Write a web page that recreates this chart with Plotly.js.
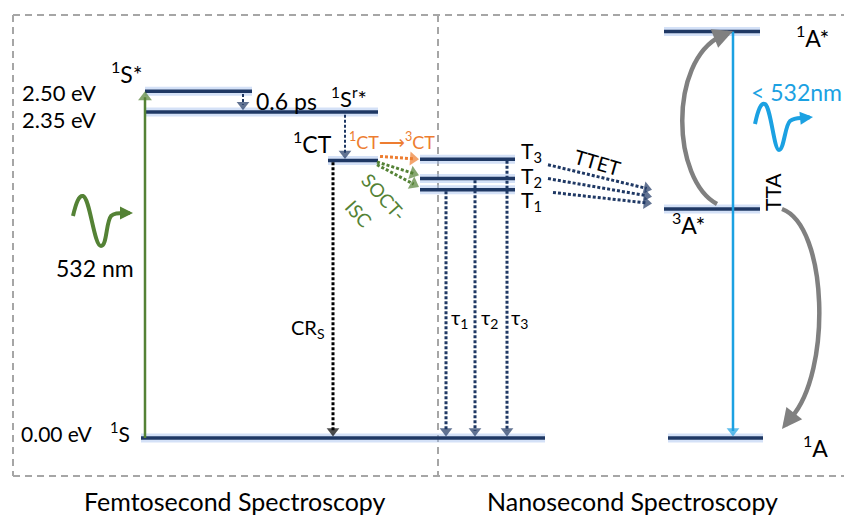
<!DOCTYPE html>
<html><head><meta charset="utf-8">
<script src="https://cdn.plot.ly/plotly-3.0.1.min.js"></script>
<style>html,body{margin:0;padding:0;background:#fff}#chart{width:844px;height:515px}</style>
</head><body><div id="chart"></div>
<script>
// ---------------- data ----------------
// energy levels (eV) and the horizontal span (diagram column units) each level occupies
const levelNames  = ['1S*', '1Sr*', '1CT', 'T3', 'T2', 'T1', '1S', '1A*', '3A*', '1A'];
const levelEnergy = [2.50, 2.35, 2.00, 2.01, 1.87, 1.79, 0.00, 2.93, 1.65, 0.00];
const levelFrom   = [145, 145, 328, 420, 420, 420, 141, 664, 664, 668];
const levelTo     = [252, 378, 378, 515, 515, 515, 545, 760, 760, 763];

// vertical transitions between levels
const vertFrom = ['1S', '1S*', '1Sr*', '1CT', 'T1', 'T2', 'T3', '1A*'];
const vertTo   = ['1S*', '1Sr*', '1CT', '1S', '1S', '1S', '1S', '1A'];
const vertCol  = [145, 243, 345, 333, 446, 475, 507, 733];
const vertKind = ['excite', 'relax', 'relax', 'crs', 'tau', 'tau', 'tau', 'emit'];

// slanted transfers (start/end column and energy)
const transKind = ['isc3ct', 'socisc', 'socisc', 'ttet', 'ttet', 'ttet'];
const transX0 = [380, 377, 377, 548, 548, 553];
const transE0 = [2.03, 1.99, 1.97, 1.97, 1.87, 1.77];
const transX1 = [419, 419, 419, 652, 652, 652];
const transE1 = [2.01, 1.895, 1.81, 1.79, 1.74, 1.69];

// ---------------- styles ----------------
const NAVY = '#1f3864', GREEN = '#548235', ORANGE = '#ed7d31', CYAN = '#1ba1e2', GRAY = '#808080';
const kindStyle = {
  excite: {color: GREEN, width: 2.5, dash: 'solid', head: 12},
  relax:  {color: NAVY, width: 2, dash: '3px,2px', head: 11},
  crs:    {color: '#000000', width: 3, dash: '3px,2px', head: 11},
  tau:    {color: NAVY, width: 3, dash: '3px,2px', head: 11},
  emit:   {color: CYAN, width: 2.5, dash: 'solid', head: 11},
  isc3ct: {color: ORANGE, width: 3, dash: '3px,2px', head: 12},
  socisc: {color: GREEN, width: 3, dash: '3px,2px', head: 12},
  ttet:   {color: NAVY, width: 3, dash: '3px,2px', head: 11}
};

// pixel-row helper for decorations and labels only
const PXE = 138.72, Y0 = 438;
const E = py => (Y0 - py) / PXE;

const idx = Object.fromEntries(levelNames.map((n, i) => [n, i]));
const traces = [];

// levels: glow + line
const lx = [], ly = [];
levelNames.forEach((n, i) => { lx.push(levelFrom[i], levelTo[i], null); ly.push(levelEnergy[i], levelEnergy[i], null); });
traces.push({x: lx, y: ly, mode: 'lines', line: {color: 'rgba(160,188,238,0.45)', width: 9}, hoverinfo: 'skip'});
traces.push({x: lx, y: ly, mode: 'lines', line: {color: NAVY, width: 3.5}, hoverinfo: 'skip'});

// arrow: line to the tip, triangle head centred just behind the tip
function arrowTrace(x0, e0, x1, e1, st) {
  const dx = x1 - x0, dy = (e1 - e0) * PXE, len = Math.hypot(dx, dy);
  const r = st.head / 2;
  const cx = x1 - r * dx / len, ce = e1 - (r * dy / len) / PXE;
  return {x: [x0, cx], y: [e0, ce], mode: 'lines+markers', hoverinfo: 'skip',
    line: {color: st.color, width: st.width, dash: st.dash},
    marker: {symbol: 'triangle-up', size: [0, st.head], color: st.color, angleref: 'previous', line: {width: 0}}};
}

vertFrom.forEach((f, i) => {
  const k = vertKind[i], st = kindStyle[k];
  const eF = levelEnergy[idx[f]], eT = levelEnergy[idx[vertTo[i]]];
  let s = eF, t = eT;
  if (k === 'relax') { s = eF - 0.02; t = eT + 0.012; }
  else if (k === 'crs' || k === 'tau') { s = eF - 0.012; t = eT + 0.01; }
  else if (k === 'emit') { t = eT + 0.01; }
  traces.push(arrowTrace(vertCol[i], s, vertCol[i], t, st));
});

transKind.forEach((k, i) => traces.push(arrowTrace(transX0[i], transE0[i], transX1[i], transE1[i], kindStyle[k])));

// ---------------- decorations ----------------
const f4 = v => v.toFixed(4);
const P = pts => pts.map(p => typeof p === 'string' ? p : `${p[0]},${f4(E(p[1]))}`).join(' ');

const shapes = [];
const boxLine = {color: '#a6a6a6', width: 2, dash: '7px,5px'};
[[13, 15, 844, 15], [13, 15, 13, 476], [13, 476, 844, 476], [438, 15, 438, 476]].forEach(s =>
  shapes.push({type: 'line', xref: 'x', yref: 'y', x0: s[0], y0: E(s[1]), x1: s[2], y1: E(s[3]), line: boxLine, layer: 'below'}));

function pathShape(d, color, width) {
  return {type: 'path', xref: 'x', yref: 'y', path: d, line: {color: color, width: width}, fillcolor: 'rgba(0,0,0,0)'};
}
// TTA arcs
shapes.push(pathShape('M ' + P([[717, 204], 'C', [672, 180], [668, 62], [721, 36]]), GRAY, 4.5));
shapes.push(pathShape('M ' + P([[782, 209], 'C', [828, 226], [832, 372], [791, 418]]), GRAY, 4.5));
// photon waves
shapes.push(pathShape('M ' + P([[73, 216], 'C', [76, 203], [79, 195], [83, 196], 'C', [90, 198], [94, 246], [101, 246],
  'C', [107, 246], [106, 222], [111, 216], 'C', [114, 213], [118, 213], [124, 213]]), GREEN, 4));
shapes.push(pathShape('M ' + P([[755, 124], 'C', [758, 110], [761, 102], [765, 104], 'C', [771, 108], [774, 150], [779, 150],
  'C', [784, 150], [785, 125], [790, 121], 'C', [795, 117], [800, 118], [804, 118]]), CYAN, 4));

const FONT = 'Lato, "Open Sans", sans-serif';
const ann = [];
function head(x, py, ax, ay, color, w, sz) {
  ann.push({x: x, y: E(py), xref: 'x', yref: 'y', text: '', showarrow: true, ax: ax, ay: ay,
    arrowhead: 2, arrowsize: sz, arrowwidth: w, arrowcolor: color, standoff: 0});
}
head(733, 31, -10, 4, GRAY, 5, 0.8);
head(782, 429, 7, -9, GRAY, 5, 0.8);
head(133, 213, -10, 0, GREEN, 4, 0.65);
head(813, 117, -10, 1, CYAN, 4, 0.65);

function label(text, x, py, size, color, angle) {
  ann.push({x: x, y: E(py), xref: 'x', yref: 'y', text: text, showarrow: false,
    font: {family: FONT, size: size, color: color || '#000'}, textangle: angle || 0,
    xanchor: 'center', yanchor: 'middle'});
}
label('2.50 eV', 59, 92, 22);
label('2.35 eV', 59, 119, 22);
label('<sup>1</sup>S*', 127, 72, 23);
label('0.6 ps', 286, 101, 23);
label('<sup>1</sup>S<sup>r</sup>*', 349, 97, 22);
label('<sup>1</sup>CT', 312, 142, 23);
label('<sup>1</sup>CT⟶<sup>3</sup>CT', 392, 141, 18, ORANGE);
label('SOCT-', 384, 196, 19, GREEN, 48);
label('ISC', 359, 213, 19, GREEN, 48);
label('T<sub>3</sub>', 531, 152, 21);
label('T<sub>2</sub>', 531, 177, 21);
label('T<sub>1</sub>', 531, 201, 21);
label('TTET', 597, 162, 20, '#000', 16);
label('<sup>1</sup>A*', 812, 36, 23);
label('< 532nm', 796, 92, 23, CYAN);
label('<sup>3</sup>A*', 688, 223, 23);
label('TTA', 772, 192, 21, '#000', -90);
label('<sup>1</sup>A', 815, 446, 23);
label('532 nm', 95, 268, 23);
label('CR<sub>S</sub>', 308, 328, 20);
label('τ<sub>1</sub>', 459, 318, 20);
label('τ<sub>2</sub>', 489, 318, 20);
label('τ<sub>3</sub>', 519, 318, 20);
label('0.00 eV', 56, 433, 21);
label('<sup>1</sup>S', 120, 432, 21);
label('Femtosecond Spectroscopy', 235, 501, 25);
label('Nanosecond Spectroscopy', 632, 501, 25);

const layout = {
  width: 844, height: 515, margin: {l: 0, r: 0, t: 0, b: 0},
  paper_bgcolor: '#fff', plot_bgcolor: '#fff', showlegend: false,
  xaxis: {range: [0, 844], visible: false, fixedrange: true},
  yaxis: {range: [E(515), E(0)], visible: false, fixedrange: true},
  shapes: shapes, annotations: ann
};
Plotly.newPlot('chart', traces, layout, {displayModeBar: false, staticPlot: true});
</script></body></html>
